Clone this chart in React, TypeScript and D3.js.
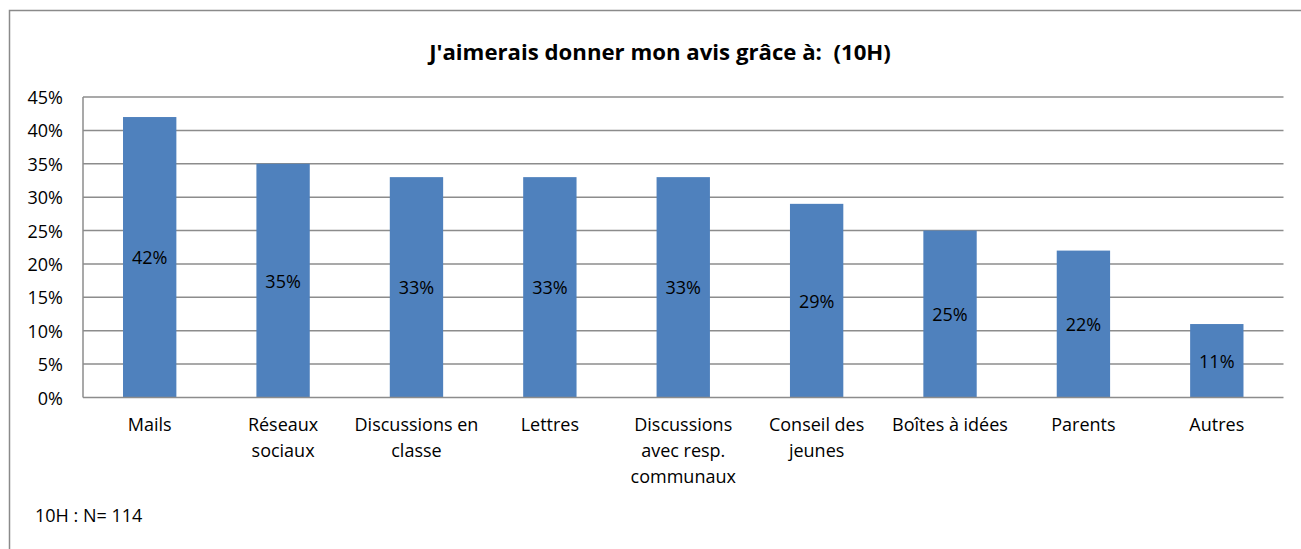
import React from "react";
import * as d3 from "d3";

const categories: string[] = [
  "Mails",
  "Réseaux\nsociaux",
  "Discussions en\nclasse",
  "Lettres",
  "Discussions\navec resp.\ncommunaux",
  "Conseil des\njeunes",
  "Boîtes à idées",
  "Parents",
  "Autres",
];
const values: number[] = [42, 35, 33, 33, 33, 29, 25, 22, 11];
const yTicks: number[] = [0, 5, 10, 15, 20, 25, 30, 35, 40, 45];
const title = "J'aimerais donner mon avis grâce à:  (10H)";
const footnote = "10H : N= 114";

const W = 1301;
const H = 549;
const FONT = "'Open Sans', Lato, sans-serif";
const FS = 18;

export default function App() {
  const left = 83;
  const right = 1283.5;
  const top = 97;
  const bottom = 397.5;

  const x = d3
    .scaleBand<string>()
    .domain(categories)
    .range([left, right])
    .paddingInner(0.6)
    .paddingOuter(0.3);
  const y = d3.scaleLinear().domain([0, 45]).range([bottom, top]);

  return (
    <svg
      width={W}
      height={H}
      style={{ position: "absolute", left: 0, top: 0, fontFamily: FONT }}
    >
      <rect x={0} y={0} width={W} height={H} fill="#ffffff" />
      <rect
        x={9.5}
        y={10.5}
        width={W + 20}
        height={H + 20}
        fill="none"
        stroke="#8a8a8a"
        strokeWidth={1.5}
      />
      <text
        x={660}
        y={51}
        textAnchor="middle"
        dominantBaseline="central"
        fontWeight="bold"
        fontSize={22.2}
        fill="#000"
        style={{ whiteSpace: "pre" }}
      >
        {title}
      </text>
      {yTicks.map((t) => (
        <g key={t}>
          {t > 0 && (
            <line
              x1={left}
              x2={right}
              y1={y(t)}
              y2={y(t)}
              stroke="#8c8c8c"
              strokeWidth={1.5}
            />
          )}
          <text
            x={63}
            y={y(t)}
            textAnchor="end"
            dominantBaseline="central"
            fontSize={FS}
            fill="#000"
          >
            {t + "%"}
          </text>
        </g>
      ))}
      {categories.map((c, i) => (
        <g key={c}>
          <rect
            x={x(c)}
            y={y(values[i])}
            width={x.bandwidth()}
            height={y(0) - y(values[i])}
            fill="#4f81bd"
          />
          <text
            x={(x(c) as number) + x.bandwidth() / 2}
            y={(y(values[i]) + y(0)) / 2}
            textAnchor="middle"
            dominantBaseline="central"
            fontSize={FS}
            fill="#000"
          >
            {values[i] + "%"}
          </text>
          {c.split("\n").map((line, j) => (
            <text
              key={j}
              x={(x(c) as number) + x.bandwidth() / 2}
              y={424 + j * 26}
              textAnchor="middle"
              dominantBaseline="central"
              fontSize={FS}
              fill="#000"
            >
              {line}
            </text>
          ))}
        </g>
      ))}
      <line x1={left} x2={right} y1={y(0)} y2={y(0)} stroke="#8c8c8c" strokeWidth={1.5} />
      <line x1={left} x2={left} y1={top} y2={bottom} stroke="#8c8c8c" strokeWidth={1.5} />
      <text x={35} y={515} dominantBaseline="central" fontSize={FS} fill="#000">
        {footnote}
      </text>
    </svg>
  );
}
